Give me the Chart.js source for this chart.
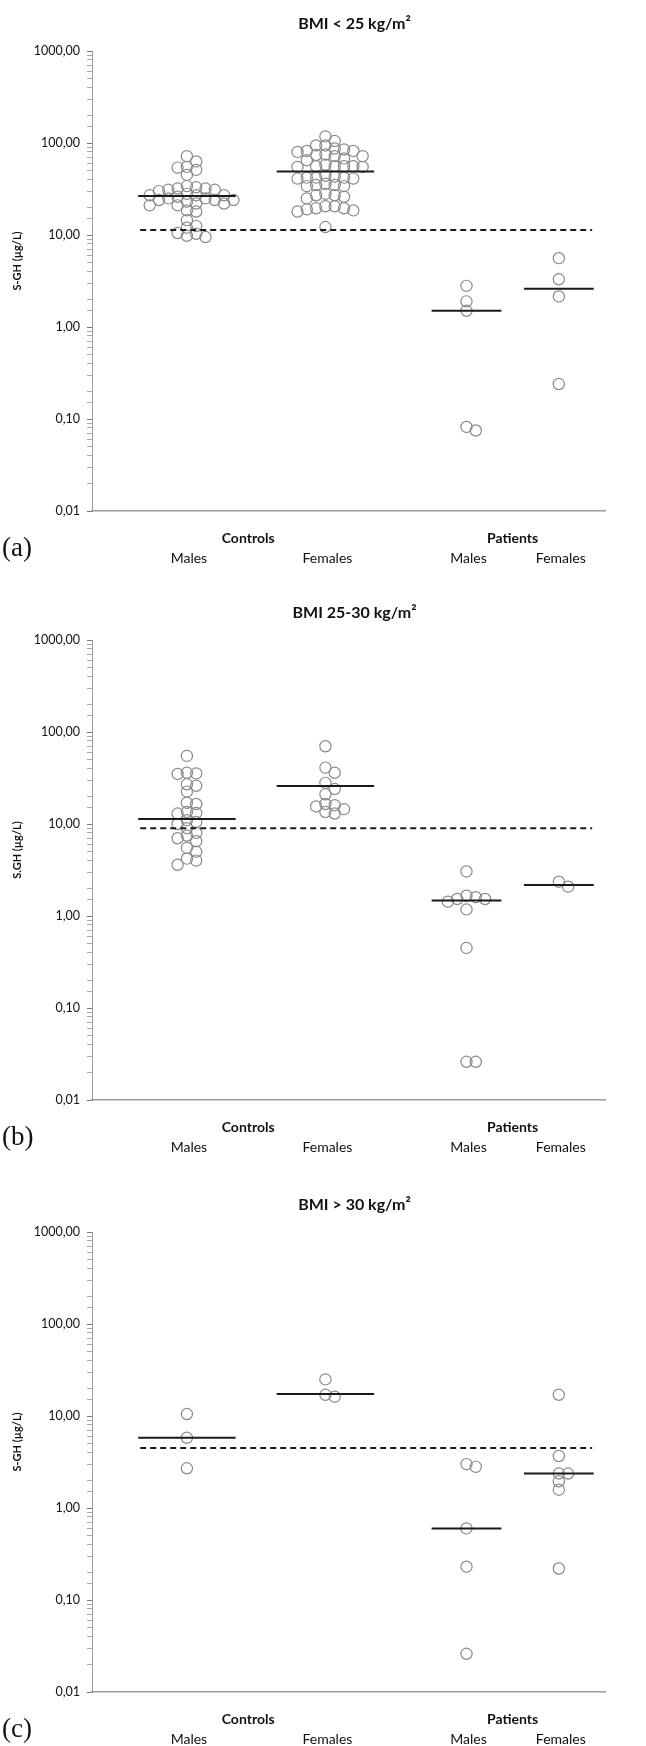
<!DOCTYPE html>
<html>
<head>
<meta charset="UTF-8">
<title>S-GH by BMI group</title>
<script src="https://cdn.jsdelivr.net/npm/chart.js@4.4.1/dist/chart.umd.min.js"></script>
<style>
  body { margin: 0; background: #fff; }
  canvas { display: block; }
</style>
</head>
<body>
<canvas id="chartA" width="646" height="589"></canvas>
<canvas id="chartB" width="646" height="589"></canvas>
<canvas id="chartC" width="646" height="568"></canvas>
<script>
// group order: control males, control females, patient males, patient females
const groupLabels = ['Males', 'Females', 'Males', 'Females'];
const groupX = [1.85, 4.55, 7.3, 9.1];
const yTickValues = [1000, 100, 10, 1, 0.1, 0.01];

// BMI < 25
const ctrlMalesA = [72, 63, 55, 51, 54, 45, 33, 31, 32, 34, 32, 30, 31, 27, 27, 26, 28, 27,
  24, 25, 24, 23, 24, 25, 22, 21, 22, 21, 18, 18.5, 14.5, 12, 12.5, 10.3, 10.5, 9.8, 9.5];
const ctrlFemalesA = [118, 105, 94, 85, 82, 94, 87, 82, 75, 68, 65, 74, 80, 72, 72,
  55, 56, 56, 56, 58, 55, 56, 41, 42, 43, 44, 42, 41, 42, 34, 35, 36, 35, 34,
  26, 25, 28, 27, 27, 20.5, 19.5, 20.5, 19.5, 18, 18.5, 19, 12.2];
const patMalesA = [2.8, 1.9, 1.5, 0.075, 0.082];
const patFemalesA = [5.6, 3.3, 2.15, 0.24];
const mediansA = [26.5, 49, 1.5, 2.6];
const cutoffA = 11.3;

// BMI 25-30
const ctrlMalesB = [55, 36, 35, 35.5, 27, 26, 22.5, 17, 16.5, 13.5, 13, 13.2, 11, 10.5, 10,
  9, 8, 7.5, 7, 6.5, 5.5, 5, 4.2, 4, 3.6];
const ctrlFemalesB = [70, 41, 36, 28, 24, 21, 16, 15.5, 16.5, 14.5, 13.5, 13];
const patMalesB = [3.05, 1.6, 1.53, 1.66, 1.43, 1.53, 1.18, 0.45, 0.026, 0.026];
const patFemalesB = [2.36, 2.08];
const mediansB = [11.3, 25.9, 1.47, 2.17];
const cutoffB = 9.0;

// BMI > 30
const ctrlMalesC = [10.5, 5.8, 2.7];
const ctrlFemalesC = [25, 17, 16.2];
const patMalesC = [3.0, 2.8, 0.6, 0.23, 0.026];
const patFemalesC = [17, 3.67, 2.37, 2.37, 1.95, 1.58, 0.22];
const mediansC = [5.8, 17.3, 0.6, 2.37];
const cutoffC = 4.5;

const medianHalf = [0.95, 0.95, 0.68, 0.68];
const cutoffRange = [0.94, 9.75];

function fmt(v) {
  return v.toFixed(2).replace('.', ',');
}
function isDecade(v) {
  const l = Math.log10(v);
  return Math.abs(l - Math.round(l)) < 1e-6;
}

const panelText = {
  id: 'panelText',
  afterDraw(chart, args, opts) {
    const ctx = chart.ctx, a = chart.chartArea, xs = chart.scales.x;
    ctx.save();
    ctx.fillStyle = '#111';
    ctx.textAlign = 'center';
    ctx.textBaseline = 'middle';
    ctx.font = 'bold 16px Lato';
    ctx.fillText(opts.title, (a.left + a.right) / 2 + 6, a.top - 27);

    ctx.font = 'bold 14px Lato';
    const c1 = (xs.getPixelForValue(groupX[0]) + xs.getPixelForValue(groupX[1])) / 2 - 8;
    const c2 = (xs.getPixelForValue(groupX[2]) + xs.getPixelForValue(groupX[3])) / 2;
    ctx.fillText('Controls', c1, a.bottom + 27);
    ctx.fillText('Patients', c2, a.bottom + 27);
    ctx.font = '14px Lato';
    groupLabels.forEach((g, i) => {
      ctx.fillText(g, xs.getPixelForValue(groupX[i]) + 2, a.bottom + 47);
    });

    ctx.textAlign = 'left';
    ctx.font = '27px "Liberation Serif"';
    ctx.fillText(opts.letter, 2, a.bottom + 38);

    ctx.translate(17, a.top + 210);
    ctx.rotate(-Math.PI / 2);
    ctx.textAlign = 'center';
    ctx.font = 'bold 11px Lato';
    ctx.fillText(opts.yTitle, 0, 0);
    ctx.restore();
  }
};

function swarm(chart) {
  const xs = chart.scales.x, ys = chart.scales.y;
  const unit = xs.getPixelForValue(1) - xs.getPixelForValue(0);
  const step = 9.3, gap = 7;
  chart.data.datasets.forEach(ds => {
    if (!ds.values) return;
    const placed = [];
    const order = ds.values.map((v, i) => i).sort((p, q) => ds.values[q] - ds.values[p]);
    ds.data = [];
    order.forEach(i => {
      const py = ys.getPixelForValue(ds.values[i]);
      for (let k = 0; k < 40; k++) {
        const slot = k === 0 ? 0 : (k % 2 ? (k + 1) / 2 : -k / 2);
        const clash = placed.some(p => p.slot === slot && Math.abs(p.py - py) < gap);
        if (!clash) {
          placed.push({ slot: slot, py: py });
          ds.data.push({ x: ds.center + slot * step / unit, y: ds.values[i] });
          break;
        }
      }
    });
  });
  chart.update('none');
}

function buildPanel(id, groups, medians, cutoff, title, yTitle, letter, top, bottom) {
  const canvas = document.getElementById(id);
  const H = canvas.height;
  const datasets = [];
  medians.forEach((m, i) => {
    datasets.push({
      data: [{ x: groupX[i] - medianHalf[i], y: m }, { x: groupX[i] + medianHalf[i], y: m }],
      showLine: true, borderColor: '#1a1a1a', borderWidth: 2, pointRadius: 0
    });
  });
  datasets.push({
    data: [{ x: cutoffRange[0], y: cutoff }, { x: cutoffRange[1], y: cutoff }],
    showLine: true, borderColor: '#1a1a1a', borderWidth: 2, borderDash: [6, 4], pointRadius: 0
  });
  groups.forEach((vals, i) => {
    datasets.push({
      values: vals, center: groupX[i],
      data: vals.map(v => ({ x: groupX[i], y: v })),
      pointRadius: 5.6, pointBorderColor: '#8a8a8a', pointBackgroundColor: 'rgba(255,255,255,0)',
      pointBorderWidth: 1.2
    });
  });
  const chart = new Chart(canvas, {
    type: 'scatter',
    data: { datasets: datasets },
    options: {
      responsive: false,
      animation: false,
      devicePixelRatio: 1,
      layout: { padding: { left: 0, top: top, right: 41, bottom: 0 } },
      plugins: {
        legend: { display: false },
        tooltip: { enabled: false },
        panelText: { title: title, yTitle: yTitle, letter: letter }
      },
      scales: {
        x: {
          type: 'linear', min: 0, max: 10,
          ticks: { display: false },
          grid: { display: false },
          border: { display: true, color: '#9a9a9a', width: 1.5 },
          afterFit(scale) { scale.height = H - bottom; }
        },
        y: {
          type: 'logarithmic', min: 0.01, max: 1000,
          afterFit(scale) { scale.width = 92; },
          border: { display: true, color: '#9a9a9a', width: 1 },
          grid: {
            drawOnChartArea: false, drawTicks: true, tickLength: 5,
            color: ctx => (ctx.tick && isDecade(ctx.tick.value)) ? '#777' : '#aaa'
          },
          ticks: {
            autoSkip: false, padding: 7, color: '#111',
            font: { family: 'Lato', size: 12.5 },
            callback: v => (isDecade(v) && yTickValues.some(t => Math.abs(t - v) < 1e-9)) ? fmt(v) : ''
          }
        }
      }
    },
    plugins: [panelText]
  });
  swarm(chart);
  return chart;
}

buildPanel('chartA', [ctrlMalesA, ctrlFemalesA, patMalesA, patFemalesA], mediansA, cutoffA,
  'BMI < 25 kg/m²', 'S-GH (µg/L)', '(a)', 51, 511);
buildPanel('chartB', [ctrlMalesB, ctrlFemalesB, patMalesB, patFemalesB], mediansB, cutoffB,
  'BMI 25-30 kg/m²', 'S.GH (µg/L)', '(b)', 51, 511);
buildPanel('chartC', [ctrlMalesC, ctrlFemalesC, patMalesC, patFemalesC], mediansC, cutoffC,
  'BMI > 30 kg/m²', 'S-GH (µg/L)', '(c)', 54, 514);
</script>
</body>
</html>
